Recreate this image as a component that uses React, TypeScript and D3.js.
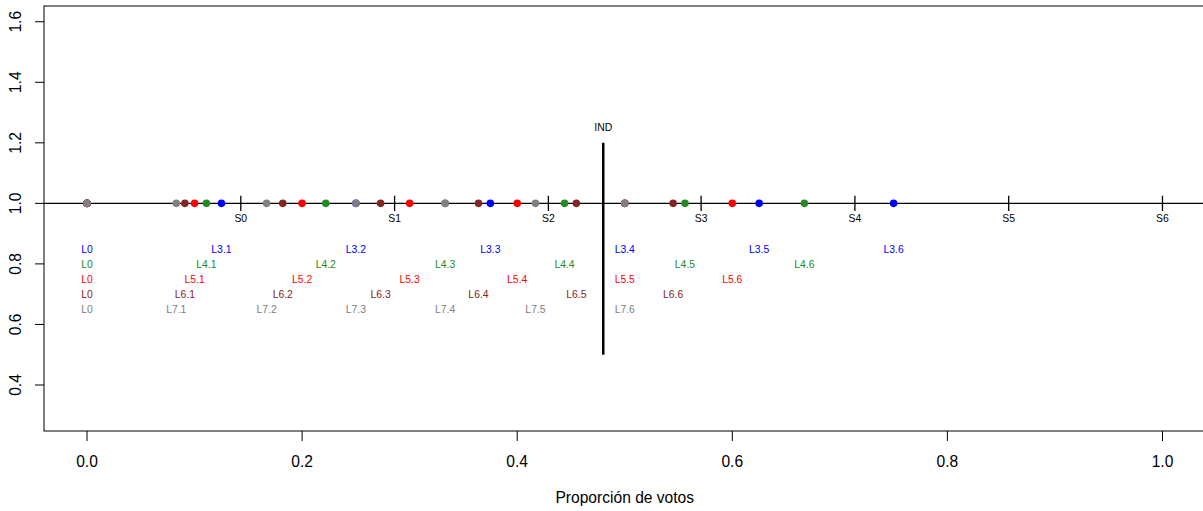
import React from "react";
import * as d3 from "d3";

const seriesNames = ["L3", "L4", "L5", "L6", "L7"];
const seriesColors = ["#0000FF", "#228B22", "#FF0000", "#832525", "#808080"];
const l3Values = [0, 0.125, 0.25, 0.375, 0.5, 0.625, 0.75];
const l4Values = [0, 0.111, 0.222, 0.333, 0.444, 0.556, 0.667];
const l5Values = [0, 0.1, 0.2, 0.3, 0.4, 0.5, 0.6];
const l6Values = [0, 0.091, 0.182, 0.273, 0.364, 0.455, 0.545];
const l7Values = [0, 0.083, 0.167, 0.25, 0.333, 0.417, 0.5];
const labelRows = [0.85, 0.8, 0.75, 0.7, 0.65];
const seatValues = [0.143, 0.286, 0.429, 0.571, 0.714, 0.857, 1.0];
const seatLabels = ["S0", "S1", "S2", "S3", "S4", "S5", "S6"];
const indValue = 0.48;
const indRange = [0.5, 1.2];
const indLabelY = 1.25;
const xTicks = [0, 0.2, 0.4, 0.6, 0.8, 1.0];
const yTicks = [0.4, 0.6, 0.8, 1.0, 1.2, 1.4, 1.6];
const xTitle = "Proporción de votos";

const allValues = [l3Values, l4Values, l5Values, l6Values, l7Values];

const W = 1203;
const H = 511;
const plot = { left: 44, right: 1205.5, top: 6, bottom: 431 };

export default function App() {
  const x = d3.scaleLinear().domain([-0.04, 1.04]).range([plot.left, plot.right]);
  const y = d3.scaleLinear().domain([0.248, 1.652]).range([plot.bottom, plot.top]);
  const font = "Liberation Sans, Arial, Helvetica, sans-serif";
  const fmt = d3.format(".1f");

  return (
    <svg
      width={W}
      height={H}
      style={{ position: "absolute", left: 0, top: 0, background: "#fff" }}
      fontFamily={font}
    >
      <defs>
        <clipPath id="plotclip">
          <rect x={plot.left} y={plot.top} width={plot.right - plot.left} height={plot.bottom - plot.top} />
        </clipPath>
      </defs>
      {/* box */}
      <rect
        x={plot.left}
        y={plot.top}
        width={plot.right - plot.left}
        height={plot.bottom - plot.top}
        fill="none"
        stroke="#000"
        strokeWidth={1}
      />
      {/* y axis */}
      {yTicks.map((t) => (
        <g key={"y" + t}>
          <line x1={plot.left - 9} x2={plot.left} y1={y(t)} y2={y(t)} stroke="#000" />
          <text
            transform={`translate(21,${y(t)}) rotate(-90)`}
            textAnchor="middle"
            fontSize={15.6}
            fill="#000"
          >
            {fmt(t)}
          </text>
        </g>
      ))}
      {/* x axis */}
      {xTicks.map((t) => (
        <g key={"x" + t}>
          <line x1={x(t)} x2={x(t)} y1={plot.bottom} y2={plot.bottom + 10} stroke="#000" />
          <text x={x(t)} y={466.5} textAnchor="middle" fontSize={15.6} fill="#000">
            {fmt(t)}
          </text>
        </g>
      ))}
      <text x={x(0.5)} y={502.5} textAnchor="middle" fontSize={15.6} fill="#000">
        {xTitle}
      </text>
      <g clipPath="url(#plotclip)">
        {/* horizontal line at 1 */}
        <line x1={plot.left} x2={plot.right} y1={y(1)} y2={y(1)} stroke="#000" strokeWidth={1.2} />
        {/* seat ticks */}
        {seatValues.map((s, i) => (
          <g key={"s" + i}>
            <line x1={x(s)} x2={x(s)} y1={y(1.025)} y2={y(0.975)} stroke="#000" strokeWidth={1.3} />
            <text x={x(s)} y={y(0.95) + 3.8} textAnchor="middle" fontSize={10.4} fill="#000">
              {seatLabels[i]}
            </text>
          </g>
        ))}
        {/* IND line */}
        <line
          x1={x(indValue)}
          x2={x(indValue)}
          y1={y(indRange[0])}
          y2={y(indRange[1])}
          stroke="#000"
          strokeWidth={2.5}
        />
        <text x={x(indValue)} y={y(indLabelY) + 3.8} textAnchor="middle" fontSize={10.4} fill="#000">
          IND
        </text>
        {/* points */}
        {allValues.map((vals, si) => (
          <g key={"p" + si}>
            {vals.map((v, i) => (
              <circle key={i} cx={x(v)} cy={y(1)} r={3.8} fill={seriesColors[si]} />
            ))}
          </g>
        ))}
        {/* labels */}
        {allValues.map((vals, si) => (
          <g key={"l" + si}>
            {vals.map((v, i) => (
              <text
                key={i}
                x={x(v)}
                y={y(labelRows[si]) + 3.8}
                textAnchor="middle"
                fontSize={10.4}
                fill={seriesColors[si]}
              >
                {i === 0 ? "L0" : `${seriesNames[si]}.${i}`}
              </text>
            ))}
          </g>
        ))}
      </g>
    </svg>
  );
}
